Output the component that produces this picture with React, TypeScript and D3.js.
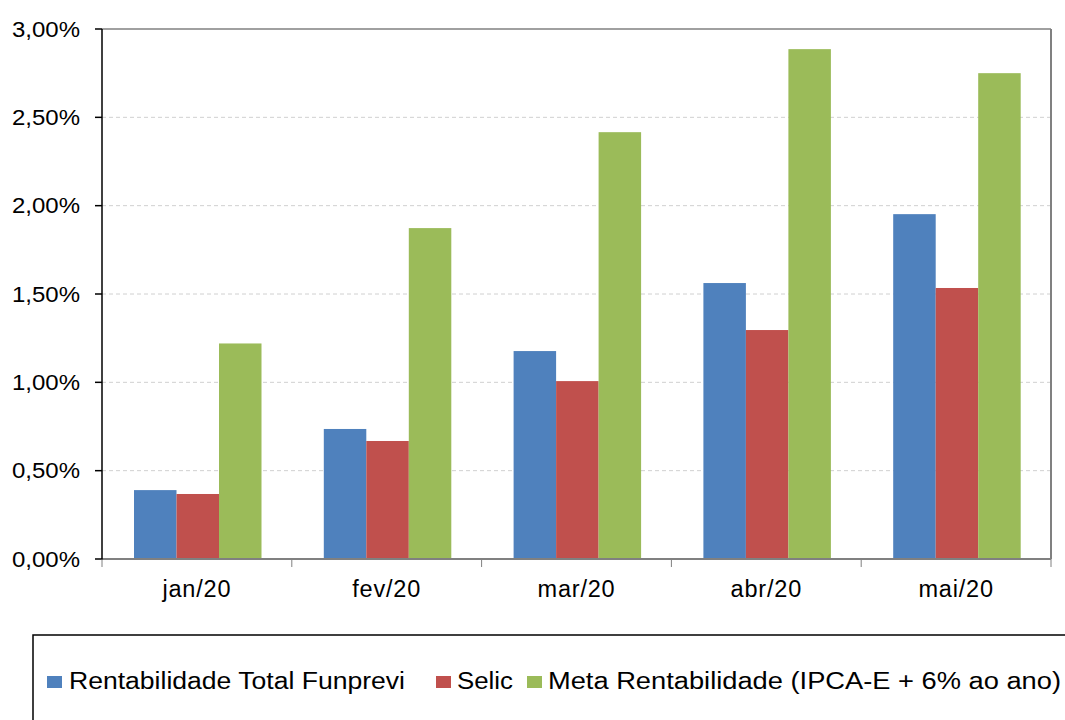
import React from "react";
import * as d3 from "d3";

const categories = ["jan/20", "fev/20", "mar/20", "abr/20", "mai/20"];
const seriesNames = [
  "Rentabilidade Total Funprevi",
  "Selic",
  "Meta Rentabilidade (IPCA-E + 6% ao ano)",
];
const funprevi = [0.39, 0.736, 1.177, 1.562, 1.952];
const selic = [0.368, 0.668, 1.007, 1.296, 1.534];
const meta = [1.22, 1.873, 2.416, 2.886, 2.75];
const seriesValues = [funprevi, selic, meta];
const colors = ["#4F81BD", "#C0504D", "#9BBB59"];
const yTicks = [0, 0.5, 1, 1.5, 2, 2.5, 3];

const W = 1065;
const H = 720;
const left = 102;
const right = 1051;
const top = 29;
const bottom = 559;

export default function App() {
  const x = d3.scaleBand<string>().domain(categories).range([left, right]).paddingInner(0).paddingOuter(0);
  const y = d3.scaleLinear().domain([0, 3]).range([bottom, top]);
  const inner = d3.scaleBand<number>().domain([0, 1, 2]).range([32, 32 + 127.5]);
  const fmt = (v: number) => v.toFixed(2).replace(".", ",") + "%";
  const font = "'Liberation Sans', Arial, sans-serif";

  const legendMarkerX = [47, 436, 527];
  const legendTextX = [69, 457, 548];
  const legendTextW = [336, 56, 513];
  return (
    <svg width={W} height={H} style={{ position: "absolute", left: 0, top: 0 }} fontFamily={font}>
      <rect x={0} y={0} width={W} height={H} fill="#fff" />
      {/* grid */}
      {yTicks.slice(1, -1).map((t) => (
        <line key={t} x1={left} x2={right} y1={y(t)} y2={y(t)} stroke="#d0d0d0" strokeWidth={1} strokeDasharray="4,3" />
      ))}
      {/* bars */}
      {seriesValues.map((vals, si) =>
        vals.map((v, ci) => (
          <rect
            key={si + "-" + ci}
            x={(x(categories[ci]) as number) + (inner(si) as number)}
            y={y(v)}
            width={inner.bandwidth()}
            height={bottom - y(v)}
            fill={colors[si]}
          />
        ))
      )}
      {/* borders */}
      <line x1={left} x2={right} y1={top} y2={top} stroke="#808080" strokeWidth={1.5} />
      <line x1={right} x2={right} y1={top} y2={bottom} stroke="#808080" strokeWidth={2} />
      <line x1={left} x2={right} y1={bottom} y2={bottom} stroke="#808080" strokeWidth={2} />
      <line x1={left} x2={left} y1={top} y2={bottom + 1} stroke="#000" strokeWidth={1.5} />
      {/* y ticks */}
      {yTicks.map((t) => (
        <g key={t}>
          <line x1={95} x2={left} y1={y(t)} y2={y(t)} stroke="#000" strokeWidth={1.5} />
          <text x={12} y={y(t) + 7.5} fontSize={21.5} fill="#000" textLength={68} lengthAdjust="spacingAndGlyphs">
            {fmt(t)}
          </text>
        </g>
      ))}
      {/* x ticks */}
      {categories.map((c, i) => (
        <line key={"t" + c} x1={left + i * x.bandwidth()} x2={left + i * x.bandwidth()} y1={bottom} y2={567} stroke="#808080" strokeWidth={1} />
      ))}
      <line x1={right} x2={right} y1={bottom} y2={567} stroke="#808080" strokeWidth={1} />
      {categories.map((c) => (
        <text key={c} x={(x(c) as number) + x.bandwidth() / 2} y={597} textAnchor="middle" fontSize={23.5} fill="#000" letterSpacing={0.8}>
          {c}
        </text>
      ))}
      {/* legend */}
      <rect x={33} y={635} width={1040} height={100} fill="none" stroke="#000" strokeWidth={1.5} />
      {seriesNames.map((n, i) => (
        <g key={n}>
          <rect x={legendMarkerX[i]} y={676} width={15} height={12} fill={colors[i]} />
          <text x={legendTextX[i]} y={688.5} fontSize={23} fill="#000" textLength={legendTextW[i]} lengthAdjust="spacingAndGlyphs">
            {n}
          </text>
        </g>
      ))}
    </svg>
  );
}
